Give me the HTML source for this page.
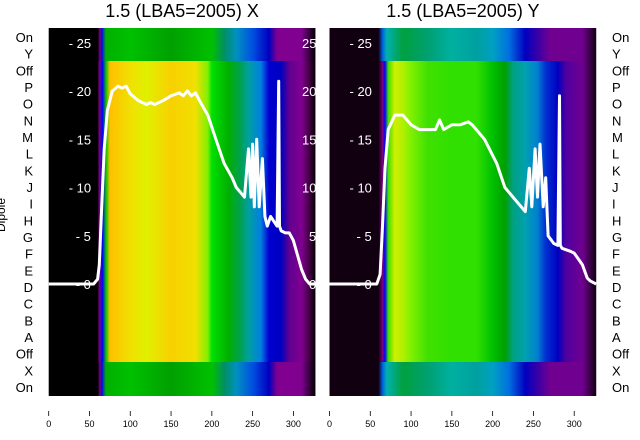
<!DOCTYPE html>
<html><head><meta charset="utf-8"><style>
body{margin:0;background:#fff;}
svg{display:block;font-family:"Liberation Sans","DejaVu Sans",sans-serif;}
</style></head><body>
<svg id="c" width="640" height="440"></svg>
<script>
const xTicks=[0,50,100,150,200,250,300];
const yTicks=[0,5,10,15,20,25];
const rowLabels=["On","Y","Off","P","O","N","M","L","K","J","I","H","G","F","E","D","C","B","A","Off","X","On"];
const xX=[0,55,60,62,65,68,72,78,85,90,95,100,110,120,125,130,140,150,160,165,170,175,180,185,195,205,215,225,230,235,240,245,248,250,252,255,258,262,265,268,272,276,280,282,283,285,290,295,300,305,310,315,320,327];
const xY=[0,0,0.5,2,8,14,18,20,20.5,20.3,20.5,19.7,19,18.6,18.8,18.6,19,19.5,19.8,19.5,20,19.5,19.8,19,17.5,15,12.5,11,10,9.5,9,14,9,14.5,8,15,8,13,7,6,7,6.5,6,21,6,5.5,5.3,5.3,4.5,3,1.5,0.5,0,0];
const yX=[0,58,62,65,68,72,80,90,100,110,120,130,135,140,150,160,170,175,190,205,215,225,235,240,245,248,252,255,258,262,265,268,275,280,282,283,285,295,300,310,316,320,327];
const yY=[0,0,1,6,12,16,17.5,17.5,16.5,16,16,16,17,16,16.5,16.5,16.8,16.5,15,12.5,10,9,8,7.5,12,8,14,9,14.5,8,11,5,4.2,4,19.5,4,3.7,3.4,3.2,2,0.6,0.3,0];
const ns="http://www.w3.org/2000/svg";
const svg=document.getElementById('c');
function mk(t,a,p){const e=document.createElementNS(ns,t);for(const k in a)e.setAttribute(k,a[k]);(p||svg).appendChild(e);return e;}
const defs=mk('defs',{});
const TOP=28,BOT=396,B1=61,B2=362;
const xs=u=>u*0.8157;
const yv=v=>284-v*9.65;
const grads={
 lm:[[0,'#000'],[60,'#000'],[62,'#800080'],[66,'#0000ff'],[70,'#00c000'],[75,'#ffc000'],[100,'#f0e000'],[120,'#e0f000'],[150,'#f8d000'],[180,'#f0e000'],[195,'#80f000'],[200,'#00e000'],[220,'#00b000'],[235,'#00a050'],[245,'#00a0a0'],[260,'#0080e0'],[270,'#0000d0'],[285,'#0000c0'],[295,'#600090'],[310,'#800090'],[320,'#400040'],[327,'#000']],
 lt:[[0,'#000'],[60,'#000'],[63,'#800080'],[65,'#0000ff'],[70,'#00b000'],[100,'#00c000'],[150,'#00a000'],[200,'#00c000'],[215,'#009060'],[230,'#0090c0'],[250,'#0050e0'],[270,'#0000c0'],[280,'#800090'],[310,'#800090'],[327,'#000']],
 rm:[[0,'#100010'],[60,'#100010'],[65,'#800080'],[68,'#0000ff'],[72,'#40e000'],[80,'#d0f000'],[90,'#b0f000'],[100,'#80f000'],[120,'#40e000'],[150,'#30e000'],[180,'#30e000'],[200,'#00c000'],[215,'#00a000'],[225,'#00a080'],[240,'#00a0b0'],[255,'#0080d0'],[265,'#0030d0'],[280,'#0000c0'],[290,'#5000a0'],[310,'#700090'],[327,'#100010']],
 rt:[[0,'#100010'],[60,'#100010'],[65,'#0060e0'],[70,'#00b0b0'],[90,'#00a040'],[120,'#00a070'],[150,'#00b0a0'],[180,'#00a0a0'],[200,'#00a0c0'],[220,'#0070e0'],[240,'#0000c0'],[270,'#700090'],[310,'#700090'],[327,'#100010']]
};
for(const g in grads){const lg=mk('linearGradient',{id:g,x1:0,x2:1,y1:0,y2:0},defs);
 grads[g].forEach(s=>mk('stop',{offset:(s[0]/327),'stop-color':s[1]},lg));}
function panel(x0,pre,title,X,Y,name){
 const g=mk('g',{});
 
 
 const W=xs(327);
 mk('rect',{x:x0,y:TOP,width:W,height:B1-TOP,fill:`url(#${pre}t)`},g);
 mk('rect',{x:x0,y:B1,width:W,height:B2-B1,fill:`url(#${pre}m)`},g);
 mk('rect',{x:x0,y:B2,width:W,height:BOT-B2,fill:`url(#${pre}t)`},g);
 yTicks.forEach(v=>{const t=mk('text',{x:x0+20+(v>=10?0:7),y:yv(v)+5,fill:'#fff','font-size':13},g);t.textContent='- '+v;
  });
 const pts=X.map((u,i)=>(x0+xs(u)).toFixed(1)+','+yv(Y[i]).toFixed(1)).join(' ');
 const pl=mk('polyline',{points:pts,fill:'none',stroke:'#fff','stroke-width':3,'stroke-linejoin':'round'},g);
 
 
 xTicks.forEach(v=>{const px=x0+xs(v);mk('line',{x1:px,x2:px,y1:411,y2:416,stroke:'#000','stroke-width':0.8},g);
  const t=mk('text',{x:px,y:427,'text-anchor':'middle','font-size':9,fill:'#000'},g);t.textContent=v;
  });
 const tt=mk('text',{x:x0+W/2,y:17,'text-anchor':'middle','font-size':18,fill:'#000'},g);tt.textContent=title;
 
}
panel(48.7,'l','1.5 (LBA5=2005) X',xX,xY,'panel-x');
yTicks.forEach(v=>{const t=mk('text',{x:302+(v>=10?0:7),y:yv(v)+5,fill:'#fff','font-size':13});t.textContent=v;});
panel(329.5,'r','1.5 (LBA5=2005) Y',yX,yY,'panel-y');
const step=(387-37)/21;
rowLabels.forEach((l,i)=>{
 const a=mk('text',{x:33,y:37+i*step+5,'text-anchor':'end','font-size':13,fill:'#000'});a.textContent=l;
 
 const b=mk('text',{x:612,y:37+i*step+5,'font-size':13,fill:'#000'});b.textContent=l;
 
});
const d=mk('text',{x:5,y:215,'font-size':12,fill:'#000',transform:'rotate(-90 5 215)','text-anchor':'middle'});
d.textContent='Dipole';


</script>
</body></html>
